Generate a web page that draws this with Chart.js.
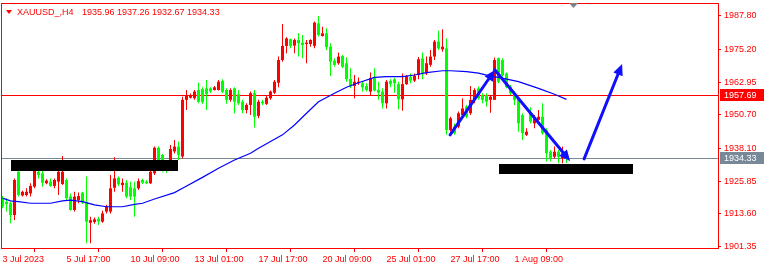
<!DOCTYPE html>
<html>
<head>
<meta charset="utf-8">
<script src="https://cdn.jsdelivr.net/npm/chart.js@4.4.0/dist/chart.umd.min.js"></script>
<style>
  html, body { margin: 0; padding: 0; background: #fff; }
  canvas { display: block; }
</style>
</head>
<body>
<canvas id="chart" width="764" height="264"></canvas>
<script>
// XAUUSD H4, 3 Jul - 3 Aug 2023 (bars)
const symbol = 'XAUUSD_,H4';

const open = [
  1919.1,1918.2,1917.6,1913.2,1929.4,1920.5,1920.7,1921.3,1923.8,1929.4,
  1928.8,1925.1,1925.7,1924.1,1925.7,1924.8,1926.3,1920.1,1915.1,1918.8,
  1921.6,1918.0,1910.3,1910.6,1911.8,1910.7,1914.5,1914.5,1923.4,1927.2,
  1924.4,1925.3,1923.6,1923.2,1923.2,1926.3,1925.7,1925.1,1928.8,1938.4,
  1935.7,1931.5,1933.8,1937.0,1938.8,1935.1,1956.3,1957.1,1956.9,1960.0,
  1960.3,1960.6,1960.6,1960.0,1960.0,1963.4,1960.0,1956.3,1960.6,1958.4,
  1955.6,1952.5,1954.4,1958.8,1950.3,1955.6,1954.8,1956.9,1959.0,1962.7,
  1971.2,1976.5,1979.0,1976.6,1978.7,1977.7,1977.2,1977.2,1976.5,1984.9,
  1980.2,1981.2,1976.2,1971.0,1970.0,1972.7,1970.0,1964.1,1961.5,1962.5,
  1962.5,1961.5,1959.4,1964.4,1960.0,1959.4,1955.0,1963.4,1964.0,1962.2,
  1956.5,1962.2,1964.8,1963.5,1965.6,1971.8,1966.2,1969.4,1972.5,1978.1,
  1975.2,1975.6,1945.0,1946.3,1946.3,1950.6,1953.8,1951.3,1956.3,1960.6,
  1958.1,1958.1,1956.3,1956.3,1971.9,1971.2,1966.2,1961.3,1958.8,1956.3,
  1950.6,1943.2,1951.3,1947.5,1948.8,1950.0,1945.0,1936.9,1935.0,1936.9,
  1934.4,1935.96
];
const high = [
  1920.3,1919.5,1918.2,1926.9,1930.1,1922.3,1923.2,1925.1,1930.7,1931.3,
  1930.1,1926.6,1926.9,1926.9,1930.1,1935.3,1926.9,1921.3,1921.9,1921.6,
  1921.9,1927.6,1912.6,1912.3,1912.6,1914.8,1917.0,1928.2,1934.8,1927.6,
  1926.9,1926.3,1925.7,1925.7,1926.9,1926.8,1926.3,1930.1,1938.8,1938.8,
  1936.0,1933.0,1939.4,1941.3,1940.7,1957.5,1960.0,1958.7,1960.0,1962.7,
  1961.0,1963.7,1961.0,1961.5,1963.7,1964.0,1960.6,1960.6,1961.0,1960.0,
  1956.3,1955.0,1959.4,1960.0,1956.3,1956.3,1958.1,1959.8,1963.7,1972.5,
  1984.7,1979.7,1979.3,1979.3,1981.2,1980.6,1978.7,1979.0,1985.6,1987.7,
  1983.7,1983.1,1977.5,1971.9,1974.0,1973.1,1972.2,1968.1,1965.6,1964.7,
  1963.1,1962.5,1966.5,1968.1,1963.1,1960.6,1963.7,1964.0,1964.6,1963.1,
  1966.2,1965.6,1966.2,1966.2,1972.3,1974.0,1972.5,1975.0,1978.7,1982.2,
  1982.7,1979.3,1950.0,1947.5,1951.9,1956.9,1954.4,1961.5,1960.6,1961.3,
  1958.8,1958.8,1958.1,1972.2,1972.2,1971.9,1966.5,1961.9,1959.4,1956.9,
  1951.3,1945.7,1953.5,1950.6,1952.5,1955.0,1945.7,1937.5,1938.8,1937.5,
  1938.8,1937.26
];
const low = [
  1915.7,1914.5,1910.1,1911.3,1920.1,1920.1,1920.1,1920.1,1923.2,1926.9,
  1923.8,1924.7,1923.8,1923.2,1920.7,1924.4,1918.8,1914.8,1914.5,1917.6,
  1917.3,1902.6,1902.6,1909.9,1909.5,1910.3,1913.8,1913.8,1921.9,1924.1,
  1921.9,1919.5,1918.8,1912.6,1922.6,1924.8,1924.7,1924.8,1928.2,1930.0,
  1929.4,1929.0,1933.2,1936.2,1933.8,1934.4,1952.5,1956.8,1956.3,1955.0,
  1954.8,1952.5,1959.0,1959.8,1959.8,1958.8,1954.8,1955.6,1951.3,1954.4,
  1951.3,1951.3,1950.6,1946.0,1949.4,1954.4,1954.4,1956.3,1958.5,1961.0,
  1970.6,1973.7,1975.6,1973.7,1972.5,1971.9,1970.0,1976.2,1975.6,1980.0,
  1980.0,1975.0,1965.2,1968.7,1969.4,1968.1,1963.1,1960.6,1956.9,1961.9,
  1959.4,1959.4,1958.1,1959.4,1956.3,1953.1,1953.1,1961.0,1959.0,1952.8,
  1952.2,1961.9,1962.5,1963.0,1964.0,1964.0,1965.6,1968.7,1971.2,1975.0,
  1974.3,1943.2,1944.4,1943.2,1945.7,1950.0,1949.4,1950.6,1955.0,1956.3,
  1955.0,1953.8,1951.5,1956.3,1962.5,1965.0,1960.6,1958.1,1954.4,1944.4,
  1941.3,1942.8,1947.5,1945.7,1948.5,1943.2,1933.2,1933.2,1934.4,1932.6,
  1932.6,1932.67
];
const close = [
  1916.3,1917.3,1913.2,1926.3,1920.7,1921.9,1921.9,1924.1,1929.7,1928.2,
  1925.3,1926.1,1924.1,1926.3,1929.4,1929.4,1919.5,1915.1,1920.1,1920.3,
  1917.8,1910.7,1911.3,1911.6,1910.8,1913.8,1916.3,1923.2,1926.9,1924.7,
  1925.3,1920.1,1920.1,1920.1,1925.9,1925.3,1925.1,1929.4,1938.4,1933.8,
  1929.8,1930.0,1937.9,1938.8,1935.7,1956.3,1958.1,1958.1,1959.4,1955.6,
  1955.4,1958.5,1959.4,1961.0,1963.1,1959.3,1956.3,1960.0,1955.6,1955.0,
  1952.5,1954.4,1958.8,1950.0,1955.6,1955.0,1957.1,1959.4,1963.1,1971.2,
  1976.5,1979.3,1976.5,1978.7,1977.5,1976.8,1977.7,1978.7,1985.2,1980.6,
  1981.2,1976.0,1970.6,1969.4,1972.5,1968.7,1964.0,1961.3,1963.1,1963.1,
  1961.0,1960.0,1964.4,1959.8,1959.0,1955.0,1963.1,1962.3,1962.5,1956.5,
  1962.2,1965.2,1963.5,1965.4,1971.5,1966.2,1970.0,1972.5,1978.1,1975.6,
  1976.2,1945.0,1949.4,1943.8,1951.3,1953.1,1950.0,1956.3,1960.0,1956.9,
  1956.3,1955.6,1957.5,1971.2,1963.1,1965.6,1961.0,1958.8,1956.3,1947.5,
  1943.8,1944.4,1948.2,1949.4,1950.0,1943.8,1936.3,1934.4,1936.9,1935.0,
  1936.3,1934.33
];

// moving average, sampled along the blue line
const maIdx = [0,2,4,7,12,15,17,20,23,26,30,33,35,38,43,45,50,54,58,62,64,67,70,73,76,79,83,86,89,93,96,100,103,106,110,112,116,119,122,124,129,134,138,141];
const maVal = [1919.5,1918.5,1918.2,1917.6,1917.6,1918.5,1918.8,1918.2,1917.0,1916.3,1916.3,1917.2,1917.6,1919.2,1921.6,1923.2,1927.3,1930.7,1933.8,1936.3,1938.2,1940.7,1943.2,1946.9,1951.3,1955.6,1958.8,1961.0,1962.7,1964.7,1965.0,1965.0,1965.6,1966.5,1967.2,1967.2,1966.9,1966.3,1965.2,1964.7,1963.1,1960.6,1958.4,1956.5];

const xTickIdx = [0,16,32,48,64,80,96,112,128];
const xTickLabels = ['3 Jul 2023','5 Jul 17:00','10 Jul 09:00','13 Jul 01:00','17 Jul 17:00','20 Jul 09:00','25 Jul 01:00','27 Jul 17:00','1 Aug 09:00'];
const yTicks = [1901.35,1913.60,1925.85,1938.10,1950.70,1962.95,1975.20,1987.80];

const hLinePrice = 1957.69;
const bidPrice = close[close.length - 1];

// drawn objects (bar index / price)
const boxes = [
  [2.1, 1933.8, 43.9, 1929.7],
  [124.1, 1932.3, 157.6, 1928.7]
];
const arrows = [
  [111.9, 1943.2, 123.1, 1967.5],
  [123.1, 1967.5, 141.9, 1933.4],
  [145.4, 1934.2, 154.9, 1969.7]
];

const UP = '#ff0000', DOWN = '#00ff00', FG = '#ff0000';
const FONT = '"Liberation Sans", Arial, sans-serif';

const idx = open.map((_, i) => i);
const colors = idx.map(i => close[i] > open[i] ? UP : DOWN);

// MT4 snaps price lines one pixel up from the exact value
const lineY = (scale, p) => Math.round(scale.getPixelForValue(p) - 0.7);

const overlay = {
  id: 'overlay',
  beforeDatasetsDraw(chart) {
    const ctx = chart.ctx, a = chart.chartArea, y = chart.scales.y;
    ctx.save();
    ctx.lineWidth = 1;
    [[hLinePrice, '#ff0000'], [bidPrice, '#778899']].forEach(([p, c]) => {
      const yy = lineY(y, p) + 0.5;
      ctx.strokeStyle = c;
      ctx.beginPath();
      ctx.moveTo(a.left, yy);
      ctx.lineTo(a.right, yy);
      ctx.stroke();
    });
    ctx.restore();
  },
  afterDatasetsDraw(chart) {
    const ctx = chart.ctx, x = chart.scales.x, y = chart.scales.y;
    ctx.save();
    ctx.fillStyle = '#000';
    boxes.forEach(b => {
      const x1 = Math.round(x.getPixelForValue(b[0])), x2 = Math.round(x.getPixelForValue(b[2]));
      const y1 = Math.round(y.getPixelForValue(b[1])), y2 = Math.round(y.getPixelForValue(b[3]));
      ctx.fillRect(x1, y1, x2 - x1, y2 - y1);
    });
    ctx.strokeStyle = '#1010ff';
    ctx.fillStyle = '#1010ff';
    ctx.lineWidth = 3;
    ctx.lineCap = 'round';
    arrows.forEach(r => {
      const x1 = x.getPixelForValue(r[0]), y1 = y.getPixelForValue(r[1]);
      const x2 = x.getPixelForValue(r[2]), y2 = y.getPixelForValue(r[3]);
      const ang = Math.atan2(y2 - y1, x2 - x1);
      const len = 11, w = 5;
      const bx = x2 - len * Math.cos(ang), by = y2 - len * Math.sin(ang);
      ctx.beginPath();
      ctx.moveTo(x1, y1);
      ctx.lineTo(bx, by);
      ctx.stroke();
      ctx.beginPath();
      ctx.moveTo(x2, y2);
      ctx.lineTo(bx + w * Math.sin(ang), by - w * Math.cos(ang));
      ctx.lineTo(bx - w * Math.sin(ang), by + w * Math.cos(ang));
      ctx.closePath();
      ctx.fill();
    });
    ctx.restore();
  },
  afterDraw(chart) {
    const ctx = chart.ctx, a = chart.chartArea, y = chart.scales.y;
    ctx.save();
    // frame
    ctx.strokeStyle = FG;
    ctx.lineWidth = 1;
    ctx.strokeRect(a.left - 0.5, a.top + 0.5, a.right - a.left + 1, a.bottom - a.top);
    // price labels on the axis
    ctx.font = '9px ' + FONT;
    ctx.textBaseline = 'middle';
    [[hLinePrice, '#ff0000'], [bidPrice, '#778899']].forEach(([p, c]) => {
      const yy = lineY(y, p);
      ctx.fillStyle = c;
      ctx.fillRect(a.right + 2, yy - 6, 764 - a.right - 2, 12);
      ctx.fillStyle = '#fff';
      ctx.fillText(p.toFixed(2), a.right + 6, yy + 0.5);
    });
    // title
    const last = open.length - 1;
    ctx.fillStyle = FG;
    ctx.beginPath();
    ctx.moveTo(6, 10); ctx.lineTo(12, 10); ctx.lineTo(9, 14); ctx.closePath();
    ctx.fill();
    ctx.fillText(symbol, 17, 12.5);
    ctx.fillText([open[last], high[last], low[last], close[last]].map(v => v.toFixed(2)).join(' '), 82, 12.5);
    // chart shift marker
    ctx.fillStyle = '#808080';
    ctx.beginPath();
    ctx.moveTo(569, 3); ctx.lineTo(578, 3); ctx.lineTo(573.5, 8); ctx.closePath();
    ctx.fill();
    ctx.restore();
  }
};

new Chart(document.getElementById('chart'), {
  type: 'bar',
  data: {
    datasets: [
      {
        type: 'line',
        data: maIdx.map((v, k) => ({ x: v, y: maVal[k] })),
        borderColor: '#0000ff',
        borderWidth: 1.2,
        pointRadius: 0,
        tension: 0,
        order: 0
      },
      {
        data: idx.map(i => ({ x: i, y: [open[i], close[i]] })),
        backgroundColor: colors,
        grouped: false,
        barPercentage: 1,
        maxBarThickness: 3,
        inflateAmount: 0,
        order: 1
      },
      {
        data: idx.map(i => ({ x: i, y: [low[i], high[i]] })),
        backgroundColor: colors,
        grouped: false,
        barPercentage: 1,
        maxBarThickness: 1,
        inflateAmount: 0,
        order: 2
      }
    ]
  },
  options: {
    responsive: false,
    animation: false,
    devicePixelRatio: 1,
    layout: { padding: { left: 2, top: 3, right: 0, bottom: 0 } },
    plugins: { legend: { display: false }, tooltip: { enabled: false } },
    scales: {
      x: {
        type: 'linear',
        offset: false,
        min: -0.125,
        max: 178.875,
        border: { display: false },
        grid: { drawOnChartArea: false, drawTicks: true, tickLength: 4, color: FG },
        ticks: {
          color: FG,
          font: { family: FONT, size: 9 },
          align: 'start',
          padding: 2,
          maxRotation: 0,
          autoSkip: false,
          callback: v => xTickLabels[xTickIdx.indexOf(v)]
        },
        afterBuildTicks: s => { s.ticks = xTickIdx.map(v => ({ value: v })); },
        afterFit: s => { s.height = 16; s.paddingLeft = 0; s.paddingRight = 0; }
      },
      y: {
        position: 'right',
        min: 1900.86,
        max: 1992.55,
        border: { display: false },
        grid: { drawOnChartArea: false, drawTicks: true, tickLength: 3, color: FG },
        ticks: {
          color: FG,
          font: { family: FONT, size: 9 },
          padding: 3,
          callback: v => v.toFixed(2)
        },
        afterBuildTicks: s => { s.ticks = yTicks.map(v => ({ value: v })); },
        afterFit: s => { s.width = 46; s.paddingTop = 0; s.paddingBottom = 0; }
      }
    }
  },
  plugins: [overlay]
});
</script>
</body>
</html>
